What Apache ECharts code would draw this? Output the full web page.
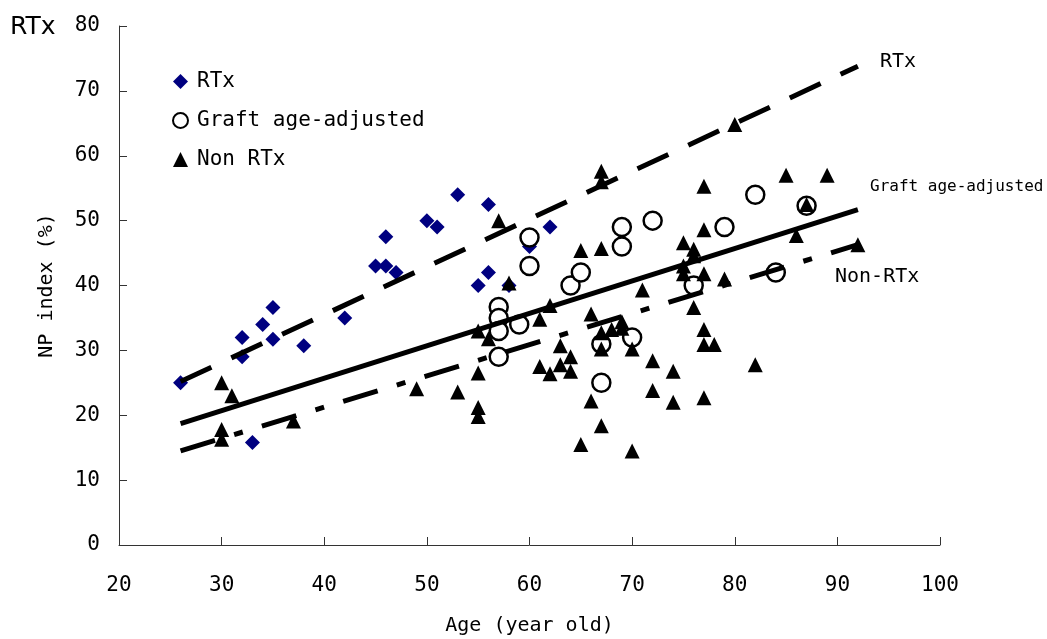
<!DOCTYPE html>
<html>
<head>
<meta charset="utf-8">
<script src="https://cdn.jsdelivr.net/npm/echarts@6/dist/echarts.min.js"></script>
<style>
  html, body { margin: 0; padding: 0; background: #fff; }
  #chart { width: 1047px; height: 639px; }
</style>
</head>
<body>
<div id="chart"></div>
<script>
// Age (x), NP index % (y)
const rtxPoints = [
  [26, 25], [32, 32], [32, 29], [33, 15.8], [34, 34], [35, 36.6], [35, 31.7],
  [38, 30.7], [42, 35], [45, 43], [46, 43], [46, 47.5], [47, 42], [50, 50],
  [51, 49], [53, 54], [55, 40], [56, 42], [56, 52.5], [58, 40], [60, 46], [62, 49]
]
const graftPoints = [
  [57, 36.7], [57, 35], [57, 33], [57, 29], [59, 34], [60, 47.4], [60, 43],
  [64, 40], [65, 42], [67, 31], [67, 25], [69, 49], [69, 46], [70, 32],
  [72, 50], [76, 40], [79, 49], [82, 54], [84, 42], [87, 52.3]
]
const nonRtxPoints = [
  [30, 25], [31, 23], [30, 17.8], [30, 16.3], [37, 19.1], [49, 24.1], [53, 23.6],
  [55, 33], [55, 26.5], [55, 21.2], [55, 19.8], [56, 31.8], [57, 50], [58, 40.4],
  [61, 34.8], [61, 27.5], [62, 36.9], [62, 26.4], [63, 30.7], [63, 27.8], [64, 29],
  [64, 26.8], [65, 45.4], [65, 15.5], [66, 35.6], [66, 22.2], [67, 57.6], [67, 56],
  [67, 45.7], [67, 32.7], [67, 30.2], [67, 18.4], [68, 33.2], [69, 34.4], [69, 33.4],
  [70, 30.2], [70, 14.5], [71, 39.3], [72, 28.4], [72, 23.8], [74, 26.8], [74, 22],
  [75, 46.6], [76, 45.6], [76, 44.6], [75, 43], [75, 41.8], [76, 36.6], [77, 55.3],
  [77, 48.6], [77, 41.8], [77, 33.2], [77, 30.9], [77, 22.7], [78, 30.9], [79, 41],
  [80, 64.8], [82, 27.8], [85, 57], [86, 47.7], [87, 52.5], [89, 57], [92, 46.3]
]
// trend lines, endpoints
const rtxTrend = [[26, 25.2], [92, 73.8]]
const graftTrend = [[26, 18.7], [92, 51.7]]
const nonRtxTrend = [[26, 14.5], [92, 46.3]]

const xTicks = [20, 100, 10]
const yTicks = [0, 80, 10]

const font = "'DejaVu Sans Mono', monospace"

const myChart = echarts.init(document.getElementById('chart'), null, { renderer: 'canvas' })

const trendStyle = (type) => ({
  color: '#000',
  width: 5,
  type: type,
  cap: 'butt'
})

const option = {
  animation: false,
  backgroundColor: '#fff',
  grid: { left: 119, right: 107, top: 26, bottom: 94, containLabel: false, outerBoundsMode: 'none' },
  legend: {
    orient: 'vertical',
    left: 167,
    top: 66,
    itemWidth: 15,
    itemHeight: 15,
    itemGap: 18,
    data: ['RTx', 'Graft age-adjusted', 'Non RTx'],
    textStyle: { fontFamily: font, fontSize: 21, color: '#000', padding: [0, 0, 0, 4] }
  },
  xAxis: {
    type: 'value',
    min: xTicks[0],
    max: xTicks[1],
    interval: xTicks[2],
    name: 'Age (year old)',
    nameLocation: 'middle',
    nameGap: 71,
    nameTextStyle: { fontFamily: font, fontSize: 20, color: '#000' },
    axisLine: { lineStyle: { color: '#333', width: 1 } },
    axisTick: { inside: true, length: 8, lineStyle: { color: '#333' } },
    axisLabel: { margin: 30, fontFamily: font, fontSize: 21, color: '#000' },
    splitLine: { show: false }
  },
  yAxis: {
    type: 'value',
    min: yTicks[0],
    max: yTicks[1],
    interval: yTicks[2],
    name: 'NP index (%)',
    nameLocation: 'middle',
    nameGap: 62,
    nameTextStyle: { fontFamily: font, fontSize: 20, color: '#000' },
    axisLine: { show: true, lineStyle: { color: '#333', width: 1 } },
    axisTick: { show: true, inside: true, length: 8, lineStyle: { color: '#333' } },
    axisLabel: { margin: 19, fontFamily: font, fontSize: 21, color: '#000' },
    splitLine: { show: false }
  },
  graphic: [
    { type: 'text', left: 10, top: 15, style: { text: 'RTx', font: "25px 'DejaVu Sans'", fill: '#000' } },
    { type: 'text', left: 880, top: 52, style: { text: 'RTx', font: '20px ' + font, fill: '#000' } },
    { type: 'text', left: 870, top: 179, style: { text: 'Graft age-adjusted', font: '16px ' + font, fill: '#000' } },
    { type: 'text', left: 835, top: 267, style: { text: 'Non-RTx', font: '20px ' + font, fill: '#000' } }
  ],
  series: [
    {
      name: 'RTx',
      type: 'scatter',
      symbol: 'diamond',
      symbolSize: 15,
      itemStyle: { color: '#000080', opacity: 1 },
      data: rtxPoints,
      z: 2
    },
    {
      name: 'Graft age-adjusted',
      type: 'scatter',
      symbol: 'circle',
      symbolSize: 18,
      itemStyle: { color: '#fff', borderColor: '#000', borderWidth: 2.5, opacity: 1 },
      data: graftPoints,
      z: 3
    },
    {
      name: 'Non RTx',
      type: 'scatter',
      symbol: 'triangle',
      symbolSize: 15,
      itemStyle: { color: '#000', opacity: 1 },
      data: nonRtxPoints,
      z: 4
    },
    {
      name: 'rtx-trend',
      type: 'line',
      symbol: 'none',
      silent: true,
      lineStyle: trendStyle([34, 22]),
      data: rtxTrend,
      z: 5
    },
    {
      name: 'graft-trend',
      type: 'line',
      symbol: 'none',
      silent: true,
      lineStyle: trendStyle('solid'),
      data: graftTrend,
      z: 5
    },
    {
      name: 'nonrtx-trend',
      type: 'line',
      symbol: 'none',
      silent: true,
      lineStyle: trendStyle([36, 20, 9, 20]),
      data: nonRtxTrend,
      z: 5
    }
  ]
}

option && myChart.setOption(option)
</script>
</body>
</html>
